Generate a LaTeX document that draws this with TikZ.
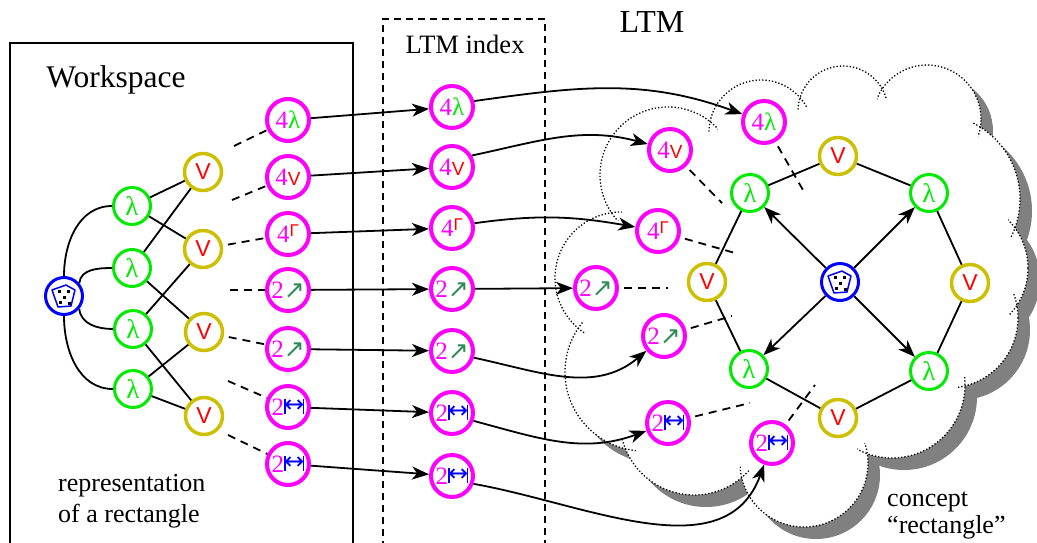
\documentclass[tikz,border=0pt]{standalone}
\usepackage{fontspec}
\setmainfont{Liberation Serif}
\setsansfont{Liberation Sans}
\newfontfamily\dejavu{DejaVu Sans}
\usetikzlibrary{arrows.meta}

\definecolor{indexpink}{RGB}{255,0,255}
\definecolor{lamgreen}{RGB}{0,235,0}
\definecolor{cornergold}{RGB}{204,192,0}
\definecolor{slopegreen}{RGB}{46,139,87}
\definecolor{cloudshade}{RGB}{128,128,128}

\tikzset{
  shapenode/.style={circle,draw=blue,line width=3pt,minimum size=37pt,inner sep=0pt},
  sidenode/.style={circle,draw=lamgreen,line width=3pt,minimum size=37pt,inner sep=0pt,
    text=lamgreen,font=\fontsize{27}{27}\selectfont},
  cornernode/.style={circle,draw=cornergold,line width=3.5pt,minimum size=37pt,inner sep=0pt},
  indexnode/.style={circle,draw=indexpink,line width=4pt,minimum size=42pt,inner sep=0pt,
    text=indexpink,font=\fontsize{25}{25}\selectfont},
  link/.style={line width=1.8pt},
  arr/.style={line width=1.8pt,-{Stealth[length=17pt,width=13pt,inset=5pt]}},
  rel/.style={line width=1.8pt,dash pattern=on 8pt off 6pt},
  titletext/.style={anchor=base,inner sep=0pt},
}

% glyphs inside the nodes
\newcommand{\lam}{\textcolor{lamgreen}{λ}}
\newcommand{\corner}{\textcolor{red}{\fontsize{23}{23}\sffamily V}}
\newcommand{\cornersmall}{\textcolor{red}{\fontsize{19}{19}\sffamily V}}
\newcommand{\rightangle}{\raisebox{6pt}{\textcolor{red}{\fontsize{17}{17}\sffamily Γ}}}
\newcommand{\slope}{\textcolor{slopegreen}{\fontsize{25}{25}\dejavu ↗}}
\newcommand{\lengthmark}{\textcolor{blue}{\rule[1.5pt]{1.6pt}{15pt}\kern-1.6pt%
  \raisebox{2.6pt}{\fontsize{24}{24}\dejavu ↔}\kern-1.6pt\rule[1.5pt]{1.6pt}{15pt}}}
% pentagon with dots inside a shape node
\newcommand{\dicemark}[1]{%
  \draw[blue,line width=1.5pt,line join=round,shift={(#1.center)}]
    (-12,6) -- (2,11) -- (11,6) -- (7,-10) -- (-6,-11) -- cycle;
  \foreach \dx/\dy in {-5/5,4/5,0/-1,-4/-6,5/-7}
    \fill[shift={(#1.center)}] (\dx-1.5,\dy-1.5) rectangle ++(3,3);
}
\newcommand{\cloudcircles}{668/175/68,761/132/52,843/111/45,927/119/54,935/199/85,960/268/68,
    948/318/70,892/385/73,804/463/64,694/421/74,644/372/79,621/278/66}
\newcommand{\cloudcore}{(668,-175) -- (761,-132) -- (843,-111) -- (927,-119) -- (935,-199)
  -- (960,-268) -- (948,-318) -- (892,-385) -- (804,-463) -- (694,-421) -- (644,-372) -- (621,-278) -- cycle}

\begin{document}
\begin{tikzpicture}[x=1pt,y=1pt]
\useasboundingbox (0,0) rectangle (1037,-542);

% cloud: shadow, inside, outlines, then hide the inner arcs
\foreach \cx/\cy/\r in \cloudcircles
  \fill[cloudshade] (\cx+12,-\cy-12) circle (\r);
\fill[cloudshade,shift={(12,-12)}] \cloudcore;
\foreach \cx/\cy/\r in \cloudcircles
  \fill[white] (\cx,-\cy) circle (\r);
\fill[white] \cloudcore;
\foreach \cx/\cy/\r in \cloudcircles
  \draw[dotted,line width=1.3pt] (\cx,-\cy) circle (\r);
\foreach \cx/\cy/\r in \cloudcircles
  \fill[white] (\cx,-\cy) circle ({\r-9});
\fill[white] \cloudcore;

% boxes and titles
\draw[line width=1.5pt] (10,-548) -- (10,-43) -- (353,-43) -- (353,-548);
\draw[line width=1.5pt,dash pattern=on 7pt off 5pt] (383,-548) -- (383,-19) -- (545,-19) -- (545,-548);
\node[titletext,font=\fontsize{31.5}{36}\selectfont] (wstitle) at (116,-87) {Workspace};
\node[titletext,font=\fontsize{26.5}{30}\selectfont] (ixtitle) at (465,-53) {LTM index};
\node[titletext,font=\fontsize{32}{36}\selectfont] (ltmtitle) at (652,-32) {LTM};
\node[anchor=base west,inner sep=0pt,font=\fontsize{26}{30}\selectfont] (rep1) at (58,-491) {representation};
\node[anchor=base west,inner sep=0pt,font=\fontsize{26}{30}\selectfont] (rep2) at (58,-522) {of a rectangle};
\node[anchor=base west,inner sep=0pt,font=\fontsize{26}{30}\selectfont] (con1) at (887,-506) {concept};
\node[anchor=base west,inner sep=0pt,font=\fontsize{26}{30}\selectfont] (con2) at (887,-533) {“rectangle”};

% workspace
\node[shapenode] (wsicon) at (64,-296) {};
\dicemark{wsicon}
\node[sidenode] (wsl1) at (132,-206) {λ};
\node[sidenode] (wsl2) at (132,-268) {λ};
\node[sidenode] (wsl3) at (133,-329) {λ};
\node[sidenode] (wsl4) at (133,-389) {λ};
\node[cornernode] (wsv1) at (203,-172) {\corner};
\node[cornernode] (wsv2) at (203,-249) {\corner};
\node[cornernode] (wsv3) at (204,-332) {\corner};
\node[cornernode] (wsv4) at (204,-416) {\corner};
\draw[link] (wsicon.north) to[out=90,in=180] (wsl1.west);
\draw[link] (wsicon.40) to[out=85,in=180] (wsl2.west);
\draw[link] (wsicon.-40) to[out=-85,in=180] (wsl3.west);
\draw[link] (wsicon.south) to[out=-90,in=180] (wsl4.west);
\draw[link] (wsl1) -- (wsv1);
\draw[link] (wsl1) -- (wsv2);
\draw[link] (wsl2) -- (wsv1);
\draw[link] (wsl2) -- (wsv3);
\draw[link] (wsl3) -- (wsv2);
\draw[link] (wsl3) -- (wsv4);
\draw[link] (wsl4) -- (wsv3);
\draw[link] (wsl4) -- (wsv4);

% workspace and index codelets
\foreach \i/\ya/\yb/\lab in {1/120/107/{4\lam},2/177/167/{4\cornersmall},3/234/228/{4\rightangle},
    4/290/289/{2\slope},5/349/351/{2\slope},6/407/413/{2\lengthmark},7/464/476/{2\lengthmark}} {
  \node[indexnode] (wsm\i) at (288,-\ya) {\lab};
  \node[indexnode] (ix\i) at (452,-\yb) {\lab};
  \draw[arr] (wsm\i) -- (ix\i);
}
\coordinate (d1) at (234,-146);
\coordinate (d2) at (232,-200);
\coordinate (d4) at (230,-290);
\coordinate (d6) at (228,-381);
\coordinate (d7) at (228,-435);
\draw[rel] (d1) -- (wsm1);
\draw[rel] (d2) -- (wsm2);
\draw[rel,shorten <=5pt] (wsv2) -- (wsm3);
\draw[rel] (d4) -- (wsm4);
\draw[rel,shorten <=5pt] (wsv3) -- (wsm5);
\draw[rel] (d6) -- (wsm6);
\draw[rel] (d7) -- (wsm7);

% concept in LTM
\node[shapenode] (lticon) at (840,-282) {};
\dicemark{lticon}
\node[sidenode] (ltl1) at (750,-193) {λ};
\node[sidenode] (ltl2) at (929,-193) {λ};
\node[sidenode] (ltl3) at (929,-371) {λ};
\node[sidenode] (ltl4) at (749,-369) {λ};
\node[cornernode] (ltv1) at (838,-156) {\corner};
\node[cornernode] (ltv2) at (970,-283) {\corner};
\node[cornernode] (ltv3) at (838,-418) {\corner};
\node[cornernode] (ltv4) at (707,-282) {\corner};
\draw[link] (ltl1) -- (ltv1) -- (ltl2) -- (ltv2) -- (ltl3) -- (ltv3) -- (ltl4) -- (ltv4) -- (ltl1);
\foreach \j in {1,...,4}
  \draw[arr] (lticon) -- (ltl\j);

\node[indexnode] (ltm1) at (764,-122) {4\lam};
\node[indexnode] (ltm2) at (670,-150) {4\cornersmall};
\node[indexnode] (ltm3) at (658,-231) {4\rightangle};
\node[indexnode] (ltm4) at (596,-288) {2\slope};
\node[indexnode] (ltm5) at (664,-336) {2\slope};
\node[indexnode] (ltm6) at (668,-423) {2\lengthmark};
\node[indexnode] (ltm7) at (772,-443) {2\lengthmark};
\coordinate (e1) at (803,-190);
\coordinate (e2) at (722,-203);
\coordinate (e3) at (735,-253);
\coordinate (e4) at (668,-288);
\coordinate (e5) at (732,-316);
\coordinate (e6) at (750,-403);
\coordinate (e7) at (815,-385);
\foreach \j in {1,...,7}
  \draw[rel,shorten <=5pt] (ltm\j) -- (e\j);

% index to LTM
\draw[arr] (ix1.15) to[out=8,in=160] (ltm1);
\draw[arr] (ix2.30) to[out=12,in=165] (ltm2);
\draw[arr] (ix3.12) to[out=8,in=170] (ltm3);
\draw[arr] (ix4) -- (ltm4);
\draw[arr] (ix5.-17) to[out=-12,in=-140] (ltm5);
\draw[arr] (ix6.-20) to[out=-15,in=-160] (ltm6);
\draw[arr] (ix7.-20) to[out=-10,in=-110] (ltm7);
\end{tikzpicture}
\end{document}
